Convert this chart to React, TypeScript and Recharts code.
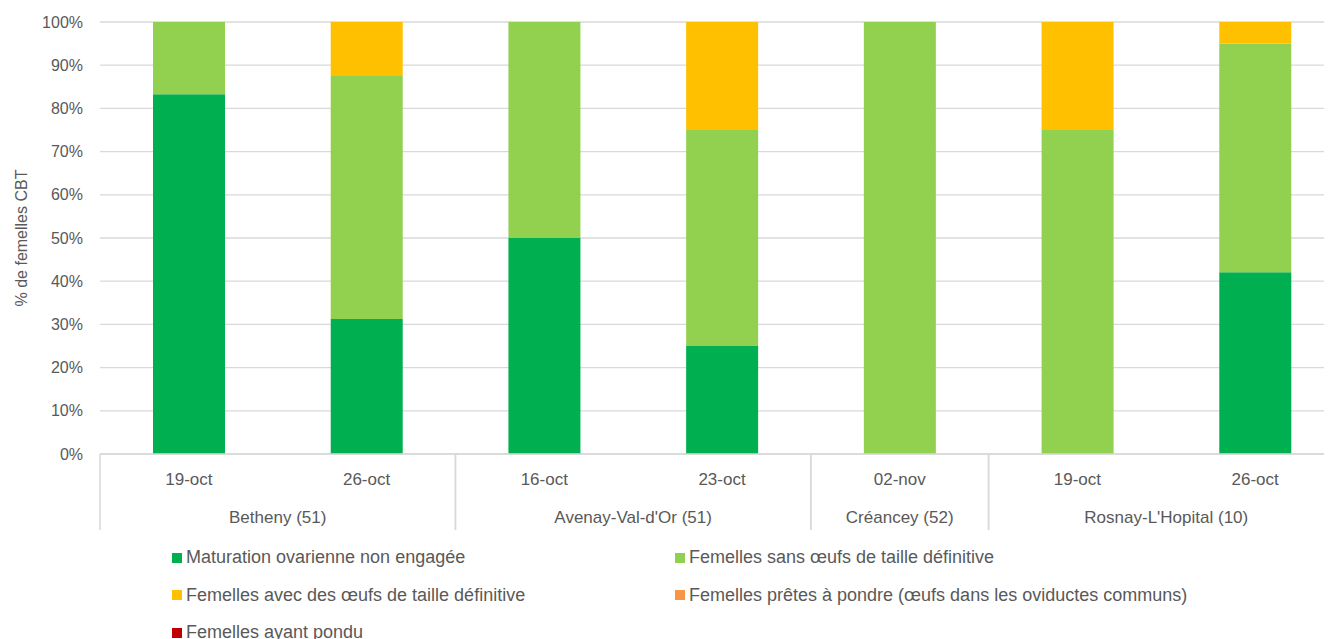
import { BarChart, Bar, XAxis, YAxis, CartesianGrid } from 'recharts';

const dates = ['19-oct', '26-oct', '16-oct', '23-oct', '02-nov', '19-oct', '26-oct'];
const sites = [
  'Betheny (51)',
  'Betheny (51)',
  "Avenay-Val-d'Or (51)",
  "Avenay-Val-d'Or (51)",
  'Créancey (52)',
  "Rosnay-L'Hopital (10)",
  "Rosnay-L'Hopital (10)",
];
const nonEngagee = [83.3, 31.25, 50, 25, 0, 0, 42.1];
const sansOeufs = [16.7, 56.25, 50, 50, 100, 75, 52.9];
const avecOeufs = [0, 12.5, 0, 25, 0, 25, 5.0];
const pretes = [0, 0, 0, 0, 0, 0, 0];
const pondu = [0, 0, 0, 0, 0, 0, 0];
const yTicks = [0, 10, 20, 30, 40, 50, 60, 70, 80, 90, 100];

const series = [
  { key: 'nonEngagee', name: 'Maturation ovarienne non engagée', color: '#00B050' },
  { key: 'sansOeufs', name: 'Femelles sans œufs de taille définitive', color: '#92D050' },
  { key: 'avecOeufs', name: 'Femelles avec des œufs de taille définitive', color: '#FFC000' },
  { key: 'pretes', name: 'Femelles prêtes à pondre (œufs dans les oviductes communs)', color: '#F79646' },
  { key: 'pondu', name: 'Femelles ayant pondu', color: '#C00000' },
];

const data = dates.map((d, i) => ({
  date: d,
  site: sites[i],
  nonEngagee: nonEngagee[i],
  sansOeufs: sansOeufs[i],
  avecOeufs: avecOeufs[i],
  pretes: pretes[i],
  pondu: pondu[i],
}));

// layout
const CHART_W = 1340;
const CHART_H = 522;
const LEFT = 92;
const RIGHT = 4;
const TOP = 14;
const AXIS_H = 38;
const PLOT_W = CHART_W - LEFT - RIGHT;
const PLOT_BOTTOM = CHART_H - 2 * AXIS_H;
const STEP = PLOT_W / dates.length;
const TEXT = '#595959';
const LINE = '#d9d9d9';
const FONT = '"Liberation Sans", Arial, sans-serif';

const DateTick = (props: any) => {
  const { x, payload } = props;
  return (
    <text x={x} y={PLOT_BOTTOM + 31} textAnchor="middle" fill={TEXT} fontSize={17} fontFamily={FONT}>
      {payload.value}
    </text>
  );
};

const SiteTick = (props: any) => {
  const { x, index } = props;
  const name = sites[index];
  if (index > 0 && sites[index - 1] === name) return <g />;
  const count = sites.filter((s) => s === name).length;
  const cx = x + ((count - 1) / 2) * STEP;
  const left = x - STEP / 2;
  const right = left + count * STEP;
  return (
    <g>
      <line x1={left} y1={PLOT_BOTTOM} x2={left} y2={CHART_H} stroke={LINE} strokeWidth={1.5} />
      <line x1={right} y1={PLOT_BOTTOM} x2={right} y2={CHART_H} stroke={LINE} strokeWidth={1.5} />
      <text x={cx} y={PLOT_BOTTOM + 69} textAnchor="middle" fill={TEXT} fontSize={17} fontFamily={FONT}>
        {name}
      </text>
    </g>
  );
};

export default function App() {
  return (
    <div style={{ width: 1324, height: 631, overflow: 'hidden', position: 'relative', fontFamily: FONT }}>
      <BarChart
        width={CHART_W}
        height={CHART_H}
        data={data}
        margin={{ top: TOP, right: RIGHT, left: 0, bottom: 0 }}
        barSize={72}
      >
        <CartesianGrid vertical={false} stroke={LINE} strokeWidth={1.3} />
        <XAxis
          dataKey="date"
          interval={0}
          height={AXIS_H}
          tickLine={false}
          axisLine={{ stroke: LINE, strokeWidth: 1.5 }}
          tick={<DateTick />}
        />
        <XAxis
          xAxisId="site"
          dataKey="site"
          interval={0}
          height={AXIS_H}
          tickLine={false}
          axisLine={false}
          tick={<SiteTick />}
        />
        <YAxis
          width={LEFT}
          domain={[0, 100]}
          ticks={yTicks}
          interval={0}
          tickLine={false}
          axisLine={false}
          tickSize={0}
          tickMargin={17}
          tickFormatter={(v) => `${v}%`}
          tick={{ fill: TEXT, fontSize: 16, fontFamily: FONT }}
          label={{
            value: '% de femelles CBT',
            angle: -90,
            position: 'insideLeft',
            offset: 13,
            style: { fill: TEXT, fontSize: 16, fontFamily: FONT, textAnchor: 'middle' },
          }}
        />
        {series.map((s) => (
          <Bar key={s.key} dataKey={s.key} name={s.name} stackId="a" fill={s.color} isAnimationActive={false} />
        ))}
      </BarChart>
      <div
        style={{
          position: 'absolute',
          top: CHART_H + 5,
          left: 0,
          display: 'grid',
          gridTemplateColumns: '503px 600px',
          paddingLeft: 164,
          rowGap: 0,
        }}
      >
        {series.map((s) => (
          <div
            key={s.key}
            style={{ height: 37.5, display: 'flex', alignItems: 'center', paddingTop: 8, boxSizing: 'border-box' }}
          >
            <span style={{ width: 10, height: 10, background: s.color, marginRight: 4, flexShrink: 0 }} />
            <span style={{ color: TEXT, fontSize: 18, whiteSpace: 'nowrap' }}>{s.name}</span>
          </div>
        ))}
      </div>
    </div>
  );
}
